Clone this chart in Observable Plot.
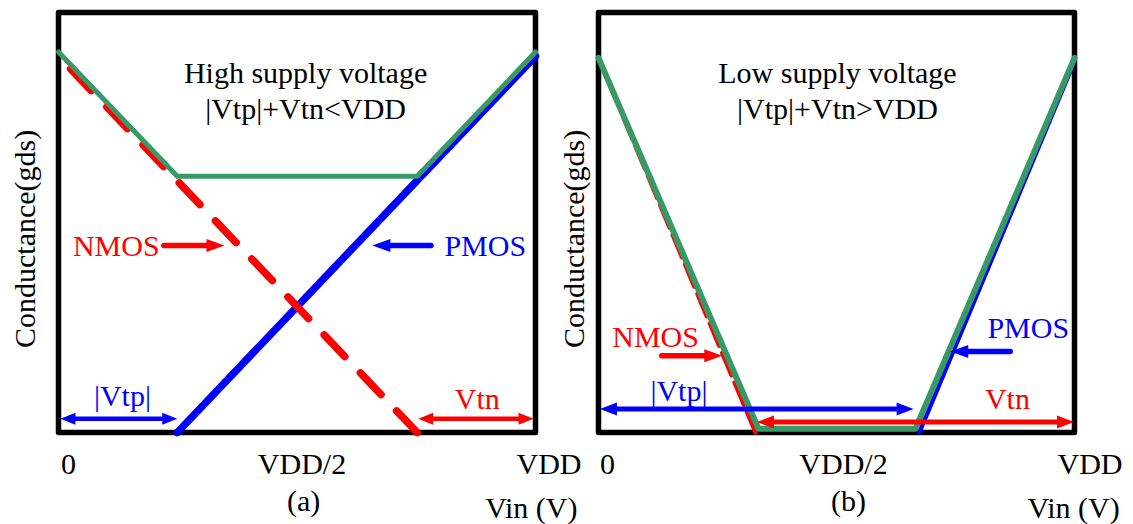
<!DOCTYPE html>
<html>
<head>
<meta charset="utf-8">
<script src="https://cdn.jsdelivr.net/npm/d3@7"></script>
<script src="https://cdn.jsdelivr.net/npm/@observablehq/plot@0.6"></script>
<style>
  html, body { margin: 0; padding: 0; background: #fff; overflow: hidden; }
  #wrap { display: flex; width: 1133px; height: 524px; }
  #wrap svg { display: block; max-width: none; overflow: visible; }
</style>
</head>
<body>
<div id="wrap"></div>
<script>
// ---------- data (Vin as fraction of VDD, conductance normalised) ----------
// Panel (a): high supply voltage, |Vtp|+Vtn<VDD
const aNmosVin = [0, 0.752];
const aNmosG   = [0.896, 0];
const aPmosVin = [0.249, 1];
const aPmosG   = [0, 0.896];
const aTotalVin = [0, 0.249, 0.752, 1];
const aTotalG   = [0.906, 0.61, 0.61, 0.906];

// Panel (b): low supply voltage, |Vtp|+Vtn>VDD
const bNmosVin = [0, 0.330];
const bNmosG   = [0.892, 0];
const bPmosVin = [0.674, 1];
const bPmosG   = [0, 0.884];
const bTotalVin = [0, 0.336, 0.666, 1];
const bTotalG   = [0.892, 0.009, 0.009, 0.892];

// threshold spans (Vin fractions)
const aVtpSpan = [0.004, 0.249];
const aVtnSpan = [0.754, 0.996];
const bVtpSpan = [0.003, 0.662];
const bVtnSpan = [0.333, 0.999];

// tick labels
const tickValues = [0, 0.5, 1];
const tickLabels = ["0", "VDD/2", "VDD"];

const RED = "#ff0000", BLUE = "#0000ff", GREEN = "#379a66";
const FONT = "'Liberation Serif', 'Times New Roman', serif";

const pts = (xs, ys) => xs.map((x, i) => ({x, y: ys[i]}));

function head(dir, L, H) {
  return {draw(ctx) { ctx.moveTo(0, 0); ctx.lineTo(-dir * L, -H); ctx.lineTo(-dir * L, H); ctx.closePath(); }};
}

// double-headed arrow
function dblArrow(span, y, color, L, H, w) {
  return [
    Plot.ruleY([y], {x1: span[0], x2: span[1], stroke: color, strokeWidth: w, insetLeft: L * 0.6, insetRight: L * 0.6}),
    Plot.dot([y], {x: span[0], y: d => d, symbol: head(-1, L, H), fill: color, stroke: "none"}),
    Plot.dot([y], {x: span[1], y: d => d, symbol: head(1, L, H), fill: color, stroke: "none"})
  ];
}
// single-headed label arrow from tail to tip
function lblArrow(tail, tip, y, color) {
  const L = 18, H = 6.5, right = tip > tail;
  return [
    Plot.ruleY([y], {x1: Math.min(tail, tip), x2: Math.max(tail, tip), stroke: color, strokeWidth: 5.5,
      strokeLinecap: "round", insetLeft: right ? 0 : L * 0.6, insetRight: right ? L * 0.6 : 0}),
    Plot.dot([y], {x: tip, y: d => d, symbol: head(right ? 1 : -1, L, H), fill: color, stroke: "none"})
  ];
}

function label(t, x, y, opts = {}) {
  return Plot.text([t], {x, y, fontSize: 30, fontFamily: FONT, lineAnchor: "bottom", stroke: "none", ...opts});
}

function ticks(dxs) {
  return tickValues.map((v, i) => label(tickLabels[i], v, -0.098,
    {textAnchor: i === 2 ? "start" : "middle", dx: dxs[i], fill: "black"}));
}

function panel(cfg) {
  return Plot.plot({
    width: cfg.width, height: 524,
    marginLeft: cfg.ml, marginRight: cfg.mr, marginTop: 12, marginBottom: 92,
    x: {domain: [0, 1], axis: null},
    y: {domain: [0, 1], axis: null},
    style: {fontFamily: FONT, fontSize: "30px", background: "transparent", overflow: "visible"},
    marks: [
      Plot.frame({stroke: "black", strokeWidth: 5.5, strokeLinejoin: "round"}),
      ...cfg.marks
    ]
  });
}

const svgA = panel({
  width: 566, ml: 58, mr: 31,
  marks: [
    Plot.line(pts(aPmosVin, aPmosG), {x: "x", y: "y", stroke: BLUE, strokeWidth: 7.5, strokeLinecap: "round"}),
    Plot.line(pts(aNmosVin, aNmosG), {x: "x", y: "y", stroke: RED, strokeWidth: 7.5, strokeLinecap: "round",
      strokeDasharray: "30,22.5", strokeDashoffset: 35}),
    Plot.line(pts(aTotalVin, aTotalG), {x: "x", y: "y", stroke: GREEN, strokeWidth: 5, strokeLinejoin: "round"}),
    ...dblArrow(aVtpSpan, 0.033, BLUE, 15, 6, 4.5),
    ...dblArrow(aVtnSpan, 0.033, RED, 15, 6, 4.5),
    ...lblArrow(0.222, 0.348, 0.445, RED),
    ...lblArrow(0.782, 0.658, 0.445, BLUE),
    label("High supply voltage\n|Vtp|+Vtn<VDD", 0.518, 0.746, {lineHeight: 1.2, fill: "black"}),
    label("NMOS", 0.212, 0.421, {textAnchor: "end", fill: RED}),
    label("PMOS", 0.809, 0.421, {textAnchor: "start", fill: BLUE}),
    label("|Vtp|", 0.134, 0.064, {fill: BLUE}),
    label("Vtn", 0.878, 0.056, {fill: RED}),
    ...ticks([10, 5, -19]),
    label("(a)", 0.514, -0.186, {fill: "black"}),
    label("Vin (V)", 1.088, -0.204, {textAnchor: "end", fill: "black"}),
    Plot.text(["Conductance(gds)"], {x: -0.069, y: 0.461, rotate: -90, fontSize: 30, fontFamily: FONT, fill: "black"})
  ]
});

const svgB = panel({
  width: 567, ml: 32, mr: 59,
  marks: [
    Plot.line(pts(bPmosVin, bPmosG), {x: "x", y: "y", stroke: BLUE, strokeWidth: 4.5, strokeLinecap: "round"}),
    Plot.line(pts(bNmosVin, bNmosG), {x: "x", y: "y", stroke: RED, strokeWidth: 4.5, strokeLinecap: "round",
      strokeDasharray: "24,8"}),
    Plot.line(pts(bTotalVin, bTotalG), {x: "x", y: "y", stroke: GREEN, strokeWidth: 6, strokeLinejoin: "round"}),
    ...dblArrow(bVtpSpan, 0.056, BLUE, 17, 6.5, 5),
    ...dblArrow(bVtnSpan, 0.025, RED, 17, 6.5, 5),
    ...lblArrow(0.134, 0.260, 0.183, RED),
    ...lblArrow(0.866, 0.739, 0.193, BLUE),
    label("Low supply voltage\n|Vtp|+Vtn>VDD", 0.502, 0.746, {lineHeight: 1.2, fill: "black"}),
    label("NMOS", 0.211, 0.204, {textAnchor: "end", fill: RED}),
    label("PMOS", 0.817, 0.226, {textAnchor: "start", fill: BLUE}),
    label("|Vtp|", 0.169, 0.075, {fill: BLUE}),
    label("Vtn", 0.859, 0.056, {fill: RED}),
    ...ticks([9, 7, -17]),
    label("(b)", 0.525, -0.186, {fill: "black"}),
    label("Vin (V)", 1.095, -0.204, {textAnchor: "end", fill: "black"}),
    Plot.text(["Conductance(gds)"], {x: -0.050, y: 0.461, rotate: -90, fontSize: 30, fontFamily: FONT, fill: "black"})
  ]
});

const wrap = document.getElementById("wrap");
wrap.appendChild(svgA);
wrap.appendChild(svgB);
</script>
</body>
</html>
